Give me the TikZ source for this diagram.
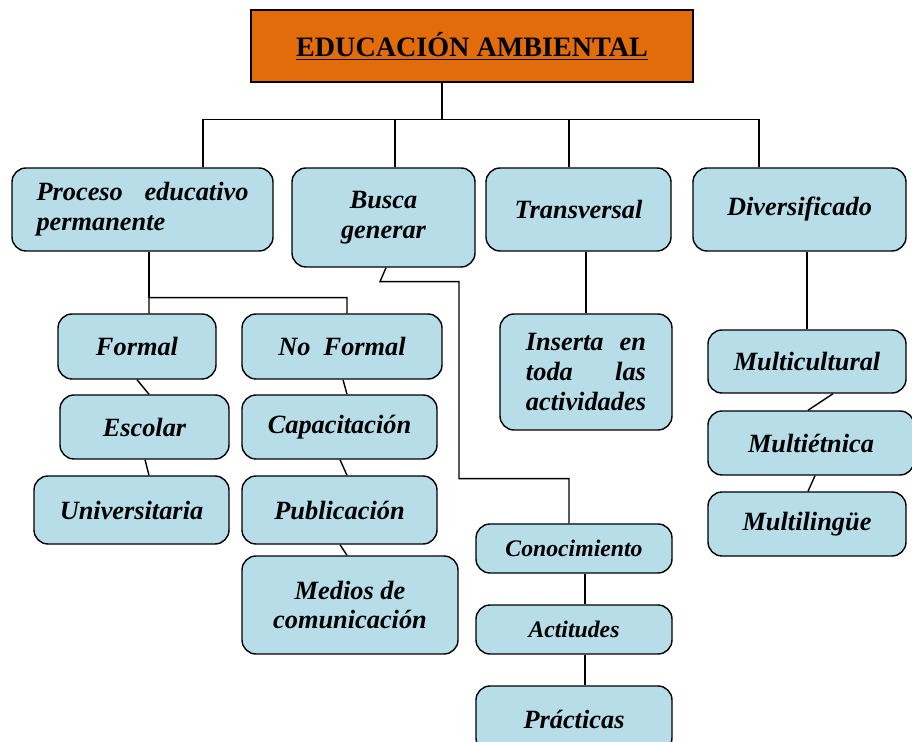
\documentclass[tikz,border=0pt]{standalone}
\usepackage{fontspec}
\setmainfont{Liberation Serif}
\usetikzlibrary{calc}
\definecolor{naranja}{RGB}{227,108,10}
\definecolor{celeste}{RGB}{183,221,232}
\tikzset{
	caja/.style={draw, fill=celeste, line width=0.8pt, rounded corners=8pt, align=center, inner sep=2pt,
		font=\fontsize{15}{17}\selectfont\bfseries\itshape},
	chica/.style={font=\fontsize{13.5}{15}\selectfont\bfseries\itshape},
	tam/.style 2 args={minimum width=#1*0.02cm, minimum height=#2*0.02cm},
	linea/.style={line width=0.8pt}
}

\begin{document}
\begin{tikzpicture}[x=0.02cm, y=-0.02cm]
		%%%%% START %%%%%
		\useasboundingbox (0, 0) rectangle (912, 742);
		
		\node[draw, fill=naranja, line width=0.8pt, tam={442}{72}, font=\fontsize{16}{18}\selectfont\bfseries] (titulo) at (472, 46) {\underline{EDUCACIÓN AMBIENTAL}};
		
		\node[caja, tam={261}{83}, align=left] (proceso) at (142.5, 209.5) {\makebox[4.24cm][s]{Proceso educativo}\\permanente};
		\node[caja, tam={183}{99}] (busca) at (383.5, 217.5) {Busca\\generar};
		\node[caja, tam={185}{83}] (transversal) at (578.5, 209.5) {Transversal};
		\node[caja, tam={213}{83}] (diversificado) at (799.5, 209.5) {Diversificado};
		
		\node[caja, tam={158}{65}] (formal) at (137, 346.5) {Formal};
		\node[caja, tam={169}{64}] (escolar) at (144.5, 427) {Escolar};
		\node[caja, tam={195}{68}] (universitaria) at (131.5, 510) {Universitaria};
		
		\node[caja, tam={200}{65}] (noformal) at (342, 346.5) {No~ Formal};
		\node[caja, tam={195}{64}] (capacitacion) at (339.5, 427) {Capacitación};
		\node[caja, tam={195}{68}] (publicacion) at (339.5, 510) {Publicación};
		\node[caja, tam={216}{98}] (medios) at (350, 605) {Medios de\\comunicación};
		
		\node[caja, tam={172}{116}, align=left] (inserta) at (586, 372) {\makebox[2.4cm][s]{Inserta en}\\\makebox[2.4cm][s]{toda las}\\actividades};
		
		\node[caja, chica, tam={196}{49}] (conocimiento) at (574, 548.5) {Conocimiento};
		\node[caja, chica, tam={196}{49}] (actitudes) at (574, 629.5) {Actitudes};
		\node[caja, tam={196}{66}] (practicas) at (574, 719) {Prácticas};
		
		\node[caja, tam={198}{63}] (multicultural) at (807, 361.5) {Multicultural};
		\node[caja, tam={206}{64}] (multietnica) at (811, 443) {Multiétnica};
		\node[caja, tam={198}{64}] (multilingue) at (807, 524) {Multilingüe};
		
		% conectores
		\draw[linea] ([xshift=-0.6cm]titulo.south) -- ++(0, 37) coordinate (barra);
		\draw[linea] ([xshift=1.21cm]proceso.north) |- (barra) -| ([xshift=-0.81cm]diversificado.north);
		\draw[linea] ([xshift=0.23cm]busca.north) -- ([xshift=0.23cm]busca.north |- barra);
		\draw[linea] ([xshift=-0.19cm]transversal.north) -- ([xshift=-0.19cm]transversal.north |- barra);
		
		\draw[linea] ([xshift=0.13cm]proceso.south) -- ++(0, 46) coordinate (bajo);
		\draw[linea] ([xshift=0.24cm]formal.north) -- (bajo) -| ([xshift=0.1cm]noformal.north);
		
		\draw[linea] (formal.south) -- ([xshift=0.09cm]escolar.north);
		\draw[linea] ([xshift=0.01cm]escolar.south) -- ([xshift=0.35cm]universitaria.north);
		\draw[linea] ([xshift=0.02cm]noformal.south) -- ([xshift=0.15cm]capacitacion.north);
		\draw[linea] ([xshift=0.01cm]capacitacion.south) -- ([xshift=0.15cm]publicacion.north);
		\draw[linea] ([xshift=0.01cm]publicacion.south) -- ([xshift=-0.06cm]medios.north);
		
		\draw[linea] ([xshift=0.05cm]busca.south) -- ++(-6, 14) -- ++(79, 0) -- ++(0, 197) -| ([xshift=-0.1cm]conocimiento.north);
		\draw[linea] ([xshift=0.22cm]conocimiento.south) -- ([xshift=0.22cm]actitudes.north);
		\draw[linea] ([xshift=0.22cm]actitudes.south) -- ([xshift=0.22cm]practicas.north);
		
		\draw[linea] (inserta.north) -- (inserta.north |- transversal.south);
		\draw[linea] (multicultural.north) -- (multicultural.north |- diversificado.south);
		\draw[linea] ([xshift=0.52cm]multicultural.south) -- ([xshift=-0.06cm]multietnica.north);
		\draw[linea] ([xshift=0.08cm]multietnica.south) -- ([xshift=0.02cm]multilingue.north);
		
		%%%%% END %%%%%
	\end{tikzpicture}
\end{document}
